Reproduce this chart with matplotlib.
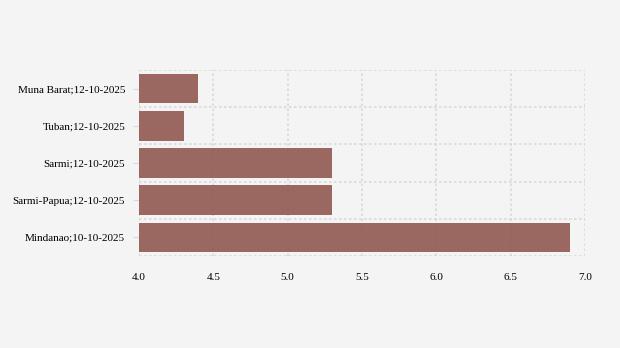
import matplotlib.pyplot as plt
import numpy as np

labels = ['Mindanao;10-10-2025', 'Sarmi-Papua;12-10-2025', 'Sarmi;12-10-2025',
          'Tuban;12-10-2025', 'Muna Barat;12-10-2025']
values = [6.9, 5.3, 5.3, 4.3, 4.4]
xticks = [4.0, 4.5, 5.0, 5.5, 6.0, 6.5, 7.0]

plt.rcParams['font.family'] = ['Liberation Serif', 'DejaVu Serif']

fig = plt.figure(figsize=(6.2, 3.48), dpi=100, facecolor='#f4f4f4')
ax = fig.add_axes([139 / 620, 1 - 256 / 348, (585 - 139) / 620, (256 - 70) / 348])
ax.set_facecolor('#f4f4f4')

y = np.arange(len(labels))
ax.barh(y, [v - 4.0 for v in values], left=4.0, height=0.8, color='#8b5047',
        alpha=0.85, zorder=2)

ax.set_xlim(4.0, 7.0)
ax.set_ylim(-0.5, len(labels) - 0.5)
ax.set_xticks(xticks)
ax.set_xticklabels([f'{t:.1f}' for t in xticks])
ax.set_yticks(y)
ax.set_yticklabels(labels)
ax.set_yticks(np.arange(-0.5, len(labels), 1.0), minor=True)

ax.grid(axis='x', which='major', color='#d9d9d9', linestyle=(0, (1.5, 1.5)), linewidth=1.2, zorder=1)
ax.grid(axis='y', which='minor', color='#d9d9d9', linestyle=(0, (1.5, 1.5)), linewidth=1.2, zorder=1)
ax.tick_params(axis='y', which='minor', length=0)
ax.tick_params(axis='y', which='major', length=4, color='#d9d9d9', labelsize=8, pad=6)
ax.tick_params(axis='x', length=0, labelsize=8, pad=12)
for s in ax.spines.values():
    s.set_visible(False)

fig.savefig('out.png', dpi=100, facecolor=fig.get_facecolor())
